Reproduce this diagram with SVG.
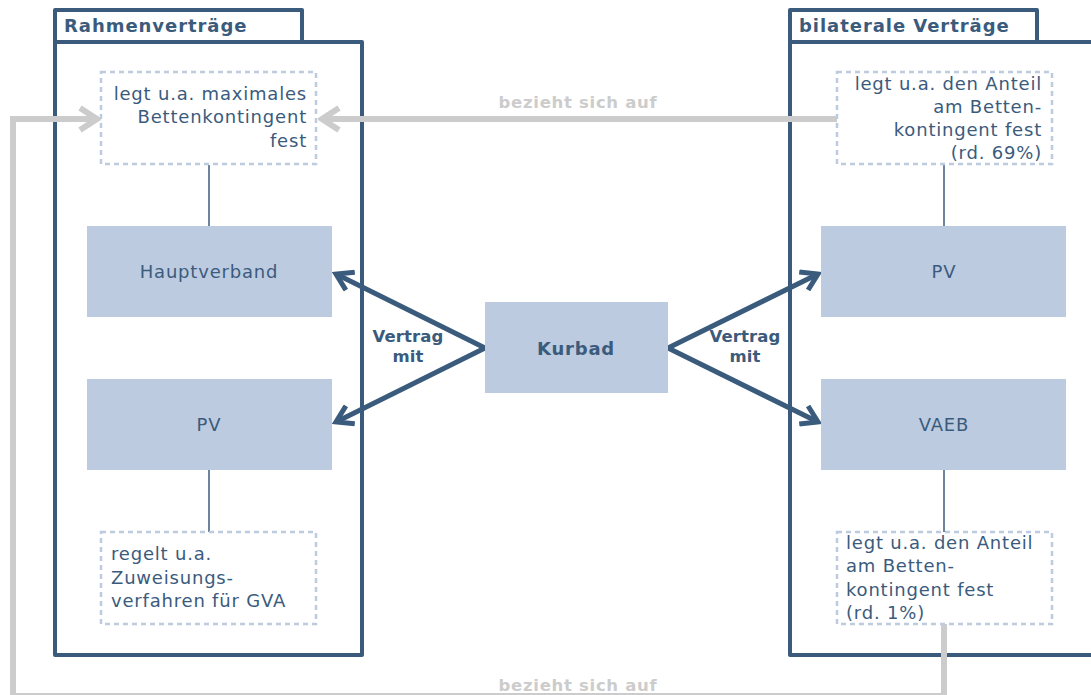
<svg xmlns="http://www.w3.org/2000/svg" width="1091" height="695" viewBox="0 0 1091 695">
<style>
text{font-family:"DejaVu Sans",Verdana,sans-serif;fill:#3b5b7d;font-size:18px;letter-spacing:0.8px}
.b{font-weight:bold}
.t{font-size:18px;letter-spacing:0.95px}
.v{font-size:16.5px;letter-spacing:0.1px}
.frame{fill:none;stroke:#3b5b7d;stroke-width:4;stroke-linejoin:round}
.box{fill:#bccbe0}
.note{fill:#fff;stroke:#bccbe0;stroke-width:2.5;stroke-dasharray:5 4}
.thin{stroke:#3b5b7d;stroke-width:1.5;fill:none}
.dark{stroke:#3b5b7d;stroke-width:5;fill:none}
.gray{stroke:#cccccc;stroke-width:6;fill:none}
.glab{fill:#cccccc;font-weight:bold;font-size:16.5px;letter-spacing:0.7px}
</style>
<defs>
<marker id="ad" markerUnits="userSpaceOnUse" viewBox="-20 -12 24 24" refX="0" refY="0" markerWidth="24" markerHeight="24" orient="auto">
<path d="M-16,-10 L0,0 L-16,10" fill="none" stroke="#3b5b7d" stroke-width="5"/>
</marker>
<marker id="ag" markerUnits="userSpaceOnUse" viewBox="-22 -14 26 28" refX="0" refY="0" markerWidth="26" markerHeight="28" orient="auto">
<path d="M-17,-11 L0,0 L-17,11" fill="none" stroke="#cccccc" stroke-width="6"/>
</marker>
</defs>

<g id="frame-rahmen">
<path class="frame" d="M55,42 V10 H302 V42"/>
<rect class="frame" x="55" y="42" width="307" height="613"/>
<text class="b t" x="64" y="32">Rahmenverträge</text>
</g>
<g id="frame-bilateral">
<path class="frame" d="M790,42 V10 H1037 V42"/>
<path class="frame" d="M1095,42 H790 V655 H1095"/>
<text class="b t" x="799" y="32">bilaterale Verträge</text>
</g>

<g id="connectors">
<line class="thin" x1="209" y1="165" x2="209" y2="226"/>
<line class="thin" x1="209" y1="470" x2="209" y2="532"/>
<line class="thin" x1="944" y1="164" x2="944" y2="226"/>
<line class="thin" x1="944" y1="470" x2="944" y2="532"/>
<line class="dark" x1="485" y1="348" x2="336" y2="274" marker-end="url(#ad)"/>
<line class="dark" x1="485" y1="348" x2="336" y2="422" marker-end="url(#ad)"/>
<line class="dark" x1="668" y1="348" x2="818" y2="274" marker-end="url(#ad)"/>
<line class="dark" x1="668" y1="348" x2="818" y2="422" marker-end="url(#ad)"/>
<text class="b v" x="408" y="342" text-anchor="middle">Vertrag</text>
<text class="b v" x="408" y="362" text-anchor="middle">mit</text>
<text class="b v" x="745" y="342" text-anchor="middle">Vertrag</text>
<text class="b v" x="745" y="362" text-anchor="middle">mit</text>
<line class="gray" x1="837" y1="119" x2="322" y2="119" marker-end="url(#ag)"/>
<text class="glab" x="578" y="108" text-anchor="middle">bezieht sich auf</text>
<polyline class="gray" points="944,624 944,696 13,696 13,119 97,119" marker-end="url(#ag)"/>
<text class="glab" x="578" y="691" text-anchor="middle">bezieht sich auf</text>
</g>

<g id="note-max">
<rect class="note" x="101" y="72" width="215" height="92"/>
<text x="307" y="100" text-anchor="end">legt u.a. maximales</text>
<text x="307" y="123" text-anchor="end">Bettenkontingent</text>
<text x="307" y="147" text-anchor="end">fest</text>
</g>
<g id="hauptverband">
<rect class="box" x="87" y="226" width="245" height="91"/>
<text x="209" y="278" text-anchor="middle">Hauptverband</text>
</g>
<g id="pv-left">
<rect class="box" x="87" y="379" width="245" height="91"/>
<text x="209" y="431" text-anchor="middle">PV</text>
</g>
<g id="note-gva">
<rect class="note" x="101" y="532" width="215" height="92"/>
<text x="111" y="560">regelt u.a.</text>
<text x="111" y="584">Zuweisungs-</text>
<text x="111" y="607">verfahren für GVA</text>
</g>
<g id="kurbad">
<rect class="box" x="485" y="302" width="183" height="91"/>
<text class="b" x="576" y="355" text-anchor="middle">Kurbad</text>
</g>
<g id="note-69">
<rect class="note" x="837" y="72" width="215" height="92"/>
<text x="1042" y="90" text-anchor="end">legt u.a. den Anteil</text>
<text x="1042" y="113" text-anchor="end">am Betten-</text>
<text x="1042" y="136" text-anchor="end">kontingent fest</text>
<text x="1042" y="159" text-anchor="end">(rd. 69%)</text>
</g>
<g id="pv-right">
<rect class="box" x="821" y="226" width="245" height="91"/>
<text x="944" y="278" text-anchor="middle">PV</text>
</g>
<g id="vaeb">
<rect class="box" x="821" y="379" width="245" height="91"/>
<text x="944" y="431" text-anchor="middle">VAEB</text>
</g>
<g id="note-1">
<rect class="note" x="837" y="532" width="215" height="92"/>
<text x="846" y="549">legt u.a. den Anteil</text>
<text x="846" y="572">am Betten-</text>
<text x="846" y="596">kontingent fest</text>
<text x="846" y="619">(rd. 1%)</text>
</g>
</svg>
